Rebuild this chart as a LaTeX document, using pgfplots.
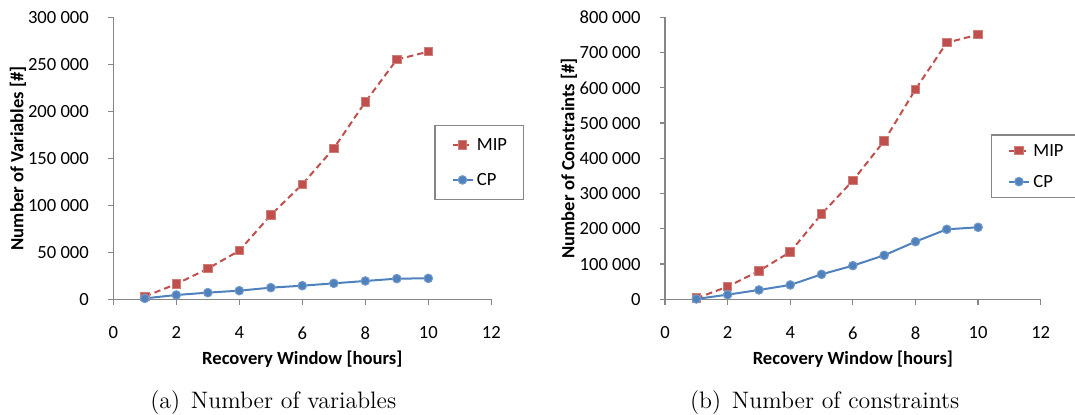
\documentclass[border=0pt]{standalone}
\usepackage{fontspec}
\usepackage{pgfplots}
\pgfplotsset{compat=1.18}
\newfontfamily\carlito{Carlito}
\definecolor{mipred}{HTML}{C0504D}
\definecolor{cpblue}{HTML}{4F81BD}
\definecolor{axgray}{HTML}{868686}
\newcommand{\cfont}{\carlito\fontsize{9.3}{11}\selectfont}
\pgfplotsset{
  exstyle/.style={
    scale only axis, height=141pt,
    axis x line=bottom, axis y line=left,
    axis line style={-, draw=axgray, line width=0.6pt},
    xmin=0, xmax=12, ymin=0,
    xtick={0,2,4,6,8,10,12},
    xticklabels={0,2,4,6,8,10,12},
    tick align=outside, major tick length=2.7pt,
    every tick/.style={draw=axgray, line width=0.6pt},
    tick label style={font=\cfont, text=black},
    label style={font=\carlito\bfseries\fontsize{9.3}{11}\selectfont},
    yticklabel style={anchor=east, inner sep=0pt, xshift=-9.35pt},
    xticklabel style={anchor=north, inner sep=0pt, yshift=-10.9pt},
    scaled y ticks=false,
    xlabel style={at={(axis description cs:0.5,0)}, anchor=center, yshift=-29.85pt},
    legend cell align=left,
    legend image code/.code={\draw[##1, mark repeat=2, mark phase=2] plot coordinates {(0pt,0pt)(5pt,0pt)(10pt,0pt)};},
  },
  mipstyle/.style={mipred, line width=1pt, dash pattern=on 3.2pt off 2pt, mark=square*, mark size=2.15pt, mark options={solid, fill=mipred, draw=mipred!75!white, line width=0.5pt}},
  cpstyle/.style={cpblue, line width=1pt, solid, mark=*, mark size=2.15pt, mark options={solid, fill=cpblue, draw=cpblue!80!white, line width=0.5pt}},
}
\begin{document}
\begin{tikzpicture}
\useasboundingbox (0,0) rectangle (537.5pt,-207pt);
\begin{axis}[exstyle, width=189pt,
  at={(56.65pt,-149.65pt)}, anchor=south west,
  ymax=300000, ytick={0,50000,100000,150000,200000,250000,300000},
  yticklabels={0,50\ 000,100\ 000,150\ 000,200\ 000,250\ 000,300\ 000},
  xlabel={Recovery Window [hours]},
  ylabel={Number of Variables [\#]},
  ylabel style={at={(axis description cs:-0.2521,0.5)}, anchor=center},
  legend style={at={(axis description cs:0.8492,0.6181)}, anchor=north west,
    draw=axgray, line width=0.6pt, inner xsep=8.3pt, inner ysep=6.65pt,
    row sep=11.5pt, column sep=1.7pt, font=\cfont,
    nodes={inner sep=0pt, text height=6pt, text depth=0pt}},
]
\addplot[mipstyle] coordinates {(1,3000) (2,16300) (3,32600) (4,51800) (5,89700) (6,122300) (7,160600) (8,209900) (9,255000) (10,263500)};
\addlegendentry{MIP}
\addplot[cpstyle] coordinates {(1,1000) (2,4600) (3,7100) (4,9200) (5,12400) (6,14500) (7,17000) (8,19500) (9,22000) (10,22300)};
\addlegendentry{CP}
\end{axis}
\begin{axis}[exstyle, width=187.85pt,
  at={(332.5pt,-149.65pt)}, anchor=south west,
  ymax=800000, ytick={0,100000,200000,300000,400000,500000,600000,700000,800000},
  yticklabels={0,100\ 000,200\ 000,300\ 000,400\ 000,500\ 000,600\ 000,700\ 000,800\ 000},
  xlabel={Recovery Window [hours]},
  ylabel={Number of Constraints [\#]},
  ylabel style={at={(axis description cs:-0.2555,0.5)}, anchor=center},
  legend style={at={(axis description cs:0.867,0.5851)}, anchor=north west,
    draw=axgray, line width=0.6pt, inner xsep=8.3pt, inner ysep=4.85pt,
    row sep=9.5pt, column sep=1.7pt, font=\cfont,
    nodes={inner sep=0pt, text height=6pt, text depth=0pt}},
]
\addplot[mipstyle] coordinates {(1,3000) (2,35900) (3,80400) (4,134300) (5,242100) (6,336600) (7,449200) (8,595700) (9,728100) (10,750800)};
\addlegendentry{MIP}
\addplot[cpstyle] coordinates {(1,1000) (2,13200) (3,26500) (4,40700) (5,70900) (6,95500) (7,124800) (8,163600) (9,198600) (10,204300)};
\addlegendentry{CP}
\end{axis}
\node[font=\fontsize{11.9}{14}\selectfont, anchor=base] at (136.65pt,-204pt) {(a)\hspace{0.45em}Number of variables};
\node[font=\fontsize{11.9}{14}\selectfont, anchor=base] at (412.35pt,-204pt) {(b)\hspace{0.45em}Number of constraints};
\end{tikzpicture}
\end{document}
